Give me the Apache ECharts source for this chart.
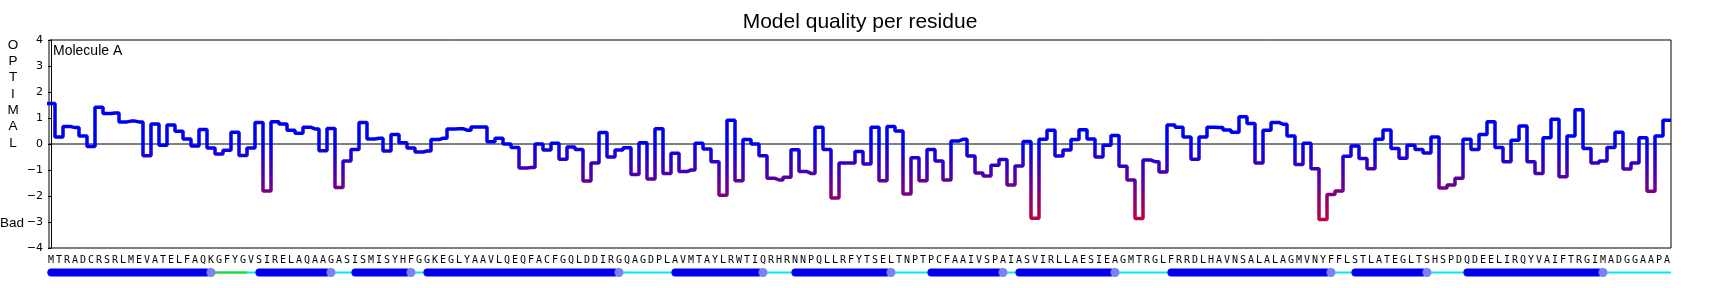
<!DOCTYPE html>
<html><head><meta charset="utf-8">
<script src="https://cdn.jsdelivr.net/npm/echarts@6/dist/echarts.min.js"></script>
<style>html,body{margin:0;padding:0;background:#fff}#c{width:1720px;height:288px}</style>
</head><body><div id="c"></div><script>
// ---- data ----
const sequence = ('MTRADCRSRLMEVATELFAQKGFYGVSIRELAQAAGASISMISYHFGGKEGLYAAVLQEQFACFGQLDDIRGQAGDPLAV' +
  'MTAYLRWTIQRHRNNPQLLRFYTSELTNPTPCFAAIVSPAIASVIRLLAESIEAGMTRGLFRRDLHAVNSALALAGMVNYFFLSTLATEG' +
  'LTSHSPDQDEELIRQYVAIFTRGIMADGGAAPA').split('');
const scores = [
  1.56, 0.27, 0.67, 0.63, 0.31, -0.10, 1.41, 1.17, 1.19, 0.85, 0.88, 0.85, -0.45, 0.77, -0.05, 0.73, 0.49, 0.19, -0.08, 0.56, -0.15, -0.38, -0.24, 0.45, -0.44, -0.15,
  0.83, -1.81, 0.86, 0.77, 0.53, 0.41, 0.64, 0.58, -0.26, 0.60, -1.67, -0.65, -0.21, 0.83, 0.19, 0.22, -0.27, 0.37, 0.05, -0.15, -0.31, -0.27, 0.17, 0.22, 0.58,
  0.59, 0.53, 0.65, 0.65, 0.09, 0.22, 0.0, -0.13, -0.92, -0.90, 0.0, -0.23, 0.03, -0.59, -0.12, -0.21, -1.42, -0.73, 0.44, -0.50, -0.23, -0.14, -1.17, 0.05, -1.35, 0.59,
  -1.13, -0.36, -1.06, -1.00, 0.03, -0.19, -0.68, -1.97, 0.91, -1.41, 0.17, 0.0, -0.45, -1.32, -1.38, -1.28, -0.22, -1.06, -1.13, 0.64, -0.21, -2.08, -0.73, -0.73, -0.29,
  -0.77, 0.64, -1.41, 0.67, 0.50, -1.92, -0.53, -1.41, -0.21, -0.65, -1.38, 0.12, 0.18, -0.46, -1.12, -1.23, -0.82, -0.60, -1.58, -0.85, 0.10, -2.86, 0.18, 0.53, -0.46, -0.23,
  0.17, 0.55, 0.19, -0.50, -0.05, 0.33, -0.86, -1.38, -2.87, -0.62, -0.68, -1.08, 0.73, 0.64, 0.27, -0.59, 0.27, 0.64, 0.63, 0.54, 0.45, 1.05, 0.79, -0.73, 0.53,
  0.83, 0.76, 0.31, -0.79, 0.03, -0.95, -2.90, -1.94, -1.81, -0.47, -0.08, -0.56, -0.95, 0.18, 0.54, -0.17, -0.55, -0.05, -0.21, -0.35, 0.27, -1.69, -1.58, -1.32, 0.18,
  -0.21, 0.37, 0.86, -0.13, -0.68, 0.14, 0.69, -0.68, -1.13, 0.24, 0.95, -1.26, 0.31, 1.32, -0.17, -0.73, -0.65, -0.13, 0.45, -0.96, -0.73, 0.24, -1.82, 0.31, 0.91
];
const yTicks = [-4, -3, -2, -1, 0, 1, 2, 3, 4];
const helices = [[0,20],[26,35],[38,45],[47,71],[78,89],[93,105],[110,119],[121,133],[140,160],[163,172],[177,194]];
const turns = [[21,24]];
const coils = [[0,202]];
const titleText = 'Model quality per residue';
const moleculeLabel = 'Molecule A';

// ---- chart ----
const chart = echarts.init(document.getElementById('c'), null, {renderer: 'canvas'});
const n = sequence.length;
const lineData = [[-0.5, scores[0]]].concat(scores.map((v, i) => [i, v])).concat([[n - 0.5, scores[n - 1]]]);

const ssData = []
  .concat(coils.map(c => [c[0], c[1], 2]))
  .concat(turns.map(c => [c[0], c[1], 1]))
  .concat(helices.map(c => [c[0], c[1], 0]));

function renderSS(params, api) {
  const s = api.value(0), e = api.value(1), k = api.value(2);
  const p0 = api.coord([s, 0.5]), p1 = api.coord([e, 0.5]);
  const unit = api.size([1, 0])[0];
  if (k === 2 || k === 1) {
    return {type: 'line', shape: {x1: p0[0] - unit / 2, y1: p0[1], x2: p1[0] + unit / 2, y2: p1[1]},
      style: {stroke: k === 2 ? '#00e6ef' : '#22d822', lineWidth: 2}};
  }
  return {type: 'group', children: [
    {type: 'rect', shape: {x: p0[0] - unit * 0.45, y: p0[1] - 4, width: p1[0] - p0[0] + unit * 0.45, height: 8, r: 4},
      style: {fill: '#0000ee'}},
    {type: 'circle', shape: {cx: p1[0], cy: p1[1], r: 4.5}, style: {fill: '#7f7ffa'}}
  ]};
}

const option = {
  animation: false,
  backgroundColor: '#fff',
  title: {text: titleText, left: 'center', top: 7,
    textStyle: {fontSize: 21, fontWeight: 'normal', color: '#000', fontFamily: 'Liberation Sans'}},
  grid: [
    {left: 49, right: 49, top: 40, height: 208, show: true, borderColor: '#000', borderWidth: 1},
    {left: 47, width: 1624, top: 268, height: 9, show: false}
  ],
  xAxis: [
    {type: 'value', gridIndex: 0, min: -0.25, max: 202.5, show: false},
    {type: 'category', gridIndex: 1, data: sequence, position: 'top', boundaryGap: true,
      axisLine: {show: false}, axisTick: {show: false},
      axisLabel: {interval: 0, margin: 3, fontSize: 10, color: '#000', fontFamily: 'DejaVu Sans Mono'}},
    {type: 'value', gridIndex: 1, min: -0.5, max: 202.5, show: false}
  ],
  yAxis: [
    {type: 'value', gridIndex: 0, min: yTicks[0], max: yTicks[yTicks.length - 1], interval: 1,
      axisLine: {show: true, lineStyle: {color: '#000', width: 1}},
      axisTick: {show: true, length: 3, lineStyle: {color: '#000'}},
      splitLine: {show: false},
      axisLabel: {margin: 6, fontSize: 11, color: '#000', fontFamily: 'DejaVu Sans',
        formatter: v => String(v).replace('-', '\u2212')}},
    {type: 'value', gridIndex: 1, min: 0, max: 1, show: false}
  ],
  visualMap: {show: false, type: 'continuous', seriesIndex: 0, dimension: 1, min: -3, max: 0,
    inRange: {color: ['#c8003c', '#0000f0']}},
  series: [
    {type: 'line', xAxisIndex: 0, yAxisIndex: 0, data: lineData, step: 'middle', showSymbol: false,
      symbol: 'none', lineStyle: {width: 3.5}, z: 3, clip: true},
    {type: 'line', xAxisIndex: 0, yAxisIndex: 0, data: [[-0.25, 0], [202.5, 0]], symbol: 'none',
      lineStyle: {width: 1, color: '#000'}, itemStyle: {color: '#000'}, z: 2, silent: true},
    {type: 'custom', xAxisIndex: 2, yAxisIndex: 1, data: ssData, renderItem: renderSS, silent: true}
  ],
  graphic: [
    {type: 'text', x: 13, y: 37, style: {text: 'O\nP\nT\nI\nM\nA\nL', align: 'center', verticalAlign: 'top',
      lineHeight: 16.3, fontSize: 13.5, fontFamily: 'Liberation Sans', fill: '#000'}},
    {type: 'text', x: 12, y: 223, style: {text: 'Bad', align: 'center', verticalAlign: 'middle',
      fontSize: 13.5, fontFamily: 'Liberation Sans', fill: '#000'}},
    {type: 'text', x: 53, y: 51, style: {text: moleculeLabel, align: 'left', verticalAlign: 'middle',
      fontSize: 14, fontFamily: 'Liberation Sans', fill: '#000'}}
  ]
};
chart.setOption(option);
</script></body></html>
